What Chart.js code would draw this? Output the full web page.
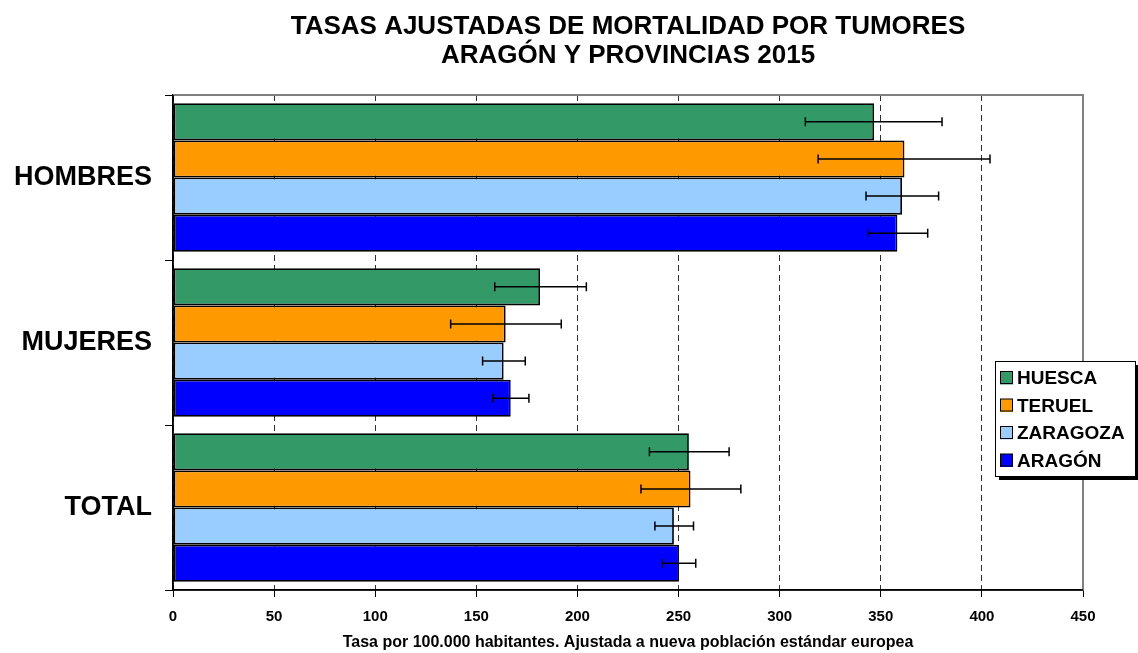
<!DOCTYPE html>
<html>
<head>
<meta charset="utf-8">
<script src="https://cdn.jsdelivr.net/npm/chart.js@4/dist/chart.umd.min.js"></script>
<style>
  html, body { margin: 0; padding: 0; background: #fff; }
  #wrap { width: 1138px; height: 653px; }
</style>
</head>
<body>
<div id="wrap"><canvas id="chart" width="1138" height="653"></canvas></div>
<script>
// ===== DATA =====
const categories = ["HOMBRES", "MUJERES", "TOTAL"];
const seriesNames = ["HUESCA", "TERUEL", "ZARAGOZA", "ARAGÓN"];

const huesca = [346.7, 181.5, 255.1];
const huescaLow = [312.7, 159.1, 235.6];
const huescaHigh = [380.3, 204.4, 275.0];

const teruel = [361.7, 164.5, 255.9];
const teruelLow = [319.0, 137.3, 231.4];
const teruelHigh = [404.0, 192.0, 280.8];

const zaragoza = [360.5, 163.5, 247.7];
const zaragozaLow = [342.7, 153.1, 238.3];
const zaragozaHigh = [378.6, 174.2, 257.4];

const aragon = [358.2, 167.0, 250.2];
const aragonLow = [343.5, 158.1, 241.8];
const aragonHigh = [373.2, 176.0, 258.5];

const xTicks = [0, 50, 100, 150, 200, 250, 300, 350, 400, 450];

const titleLines = ["TASAS AJUSTADAS DE MORTALIDAD POR TUMORES", "ARAGÓN Y PROVINCIAS 2015"];
const xTitle = "Tasa por 100.000 habitantes. Ajustada a nueva población estándar europea";

const colors = ["#339966", "#FF9900", "#99CCFF", "#0000FF"];
const FONT = "'Liberation Sans', Arial, sans-serif";

// ===== PLUGINS =====
const frame = {
  id: "frame",
  beforeDatasetsDraw(chart) {
    const { ctx, chartArea: a } = chart;
    ctx.save();
    ctx.setLineDash([]);
    // white out the dashed grid line at the right edge, then the gray frame
    ctx.strokeStyle = "#fff";
    ctx.lineWidth = 3;
    ctx.beginPath();
    ctx.moveTo(a.right, a.top);
    ctx.lineTo(a.right, a.bottom);
    ctx.stroke();
    ctx.strokeStyle = "#808080";
    ctx.lineWidth = 2;
    ctx.beginPath();
    ctx.moveTo(a.left, a.top);
    ctx.lineTo(a.right, a.top);
    ctx.lineTo(a.right, a.bottom);
    ctx.stroke();
    // solid black axis lines over the dashed grid
    ctx.strokeStyle = "#000";
    ctx.lineWidth = 1.5;
    ctx.beginPath();
    ctx.moveTo(a.left, a.top);
    ctx.lineTo(a.left, a.bottom);
    ctx.lineTo(a.right, a.bottom);
    ctx.stroke();
    ctx.restore();
  }
};

const errorBars = {
  id: "errorBars",
  afterDatasetsDraw(chart) {
    const { ctx } = chart;
    const x = chart.scales.x;
    ctx.save();
    ctx.setLineDash([]);
    ctx.strokeStyle = "#000";
    ctx.lineWidth = 1.5;
    chart.data.datasets.forEach((ds, i) => {
      chart.getDatasetMeta(i).data.forEach((bar, j) => {
        const x1 = x.getPixelForValue(ds.low[j]);
        const x2 = x.getPixelForValue(ds.high[j]);
        const y = bar.y;
        ctx.beginPath();
        ctx.moveTo(x1, y); ctx.lineTo(x2, y);
        ctx.moveTo(x1, y - 4.5); ctx.lineTo(x1, y + 4.5);
        ctx.moveTo(x2, y - 4.5); ctx.lineTo(x2, y + 4.5);
        ctx.stroke();
      });
    });
    ctx.restore();
  }
};

const titleAndLegend = {
  id: "titleAndLegend",
  afterDraw(chart) {
    const { ctx, chartArea: a } = chart;
    ctx.save();
    ctx.setLineDash([]);
    // title, centred on the plot area
    ctx.fillStyle = "#000";
    ctx.font = "bold 26px " + FONT;
    ctx.textAlign = "center";
    ctx.textBaseline = "middle";
    const cx = (a.left + a.right) / 2;
    ctx.fillText(titleLines[0], cx, 27);
    ctx.fillText(titleLines[1], cx, 56);

    // legend box with shadow
    const lx = 995, ly = 361, lw = 140, lh = 115;
    ctx.fillStyle = "#000";
    ctx.fillRect(lx + 4, ly + 4, lw, lh);
    ctx.fillStyle = "#fff";
    ctx.fillRect(lx, ly, lw, lh);
    ctx.strokeStyle = "#000";
    ctx.lineWidth = 1;
    ctx.strokeRect(lx + 0.5, ly + 0.5, lw, lh);

    ctx.font = "bold 19px " + FONT;
    ctx.textAlign = "left";
    chart.data.datasets.forEach((ds, i) => {
      const yy = 378 + i * 27.5;
      ctx.fillStyle = ds.backgroundColor;
      ctx.fillRect(1000, yy - 6.5, 13, 13);
      ctx.strokeRect(1000.5, yy - 6.5, 12, 12);
      ctx.fillStyle = "#000";
      ctx.fillText(ds.label, 1017, yy + 1);
    });
    ctx.restore();
  }
};

// ===== CHART =====
function makeSet(i, values, low, high) {
  return {
    label: seriesNames[i],
    data: values,
    low: low,
    high: high,
    backgroundColor: colors[i],
    borderColor: "#000",
    borderWidth: 1.8,
    borderSkipped: false,
    categoryPercentage: 0.9,
    barPercentage: 1.0
  };
}

new Chart(document.getElementById("chart"), {
  type: "bar",
  data: {
    labels: categories,
    datasets: [
      makeSet(0, huesca, huescaLow, huescaHigh),
      makeSet(1, teruel, teruelLow, teruelHigh),
      makeSet(2, zaragoza, zaragozaLow, zaragozaHigh),
      makeSet(3, aragon, aragonLow, aragonHigh)
    ]
  },
  options: {
    indexAxis: "y",
    responsive: false,
    animation: false,
    devicePixelRatio: 1,
    layout: { padding: { top: 95, right: 55, left: 0, bottom: 0 } },
    plugins: {
      legend: { display: false },
      title: { display: false },
      tooltip: { enabled: false }
    },
    scales: {
      x: {
        min: 0,
        max: 450,
        afterBuildTicks(scale) { scale.ticks = xTicks.map(v => ({ value: v })); },
        afterFit(scale) { scale.height = 63; },
        border: { display: true, color: "#000", width: 1.5, dash: [6, 4] },
        grid: {
          color: "#303030",
          lineWidth: 1,
          tickColor: "#000",
          tickLength: 7,
          tickBorderDash: [],
          tickBorderDashOffset: 0
        },
        ticks: {
          color: "#000",
          font: { family: FONT, size: 15, weight: "bold" },
          padding: 11,
          maxRotation: 0
        },
        title: {
          display: true,
          text: xTitle,
          color: "#000",
          font: { family: FONT, size: 16, weight: "bold" },
          padding: { top: 0, bottom: 1 }
        }
      },
      y: {
        afterFit(scale) { scale.width = 173; },
        border: { display: true, color: "#000", width: 1.5 },
        grid: {
          offset: true,
          drawOnChartArea: false,
          tickColor: "#000",
          tickLength: 8
        },
        ticks: {
          color: "#000",
          font: { family: FONT, size: 27, weight: "bold" },
          padding: 13
        }
      }
    }
  },
  plugins: [frame, errorBars, titleAndLegend]
});
</script>
</body>
</html>
